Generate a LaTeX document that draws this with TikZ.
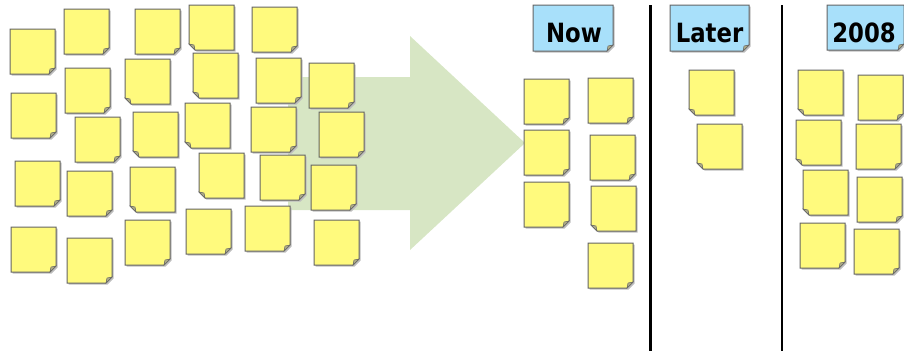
\documentclass[tikz,border=0pt]{standalone}
\usepackage{fontspec}
\newfontfamily\hdrfont[FakeStretch=0.86]{DejaVu Sans}
\definecolor{notefill}{RGB}{255,250,125}
\definecolor{hdrfill}{RGB}{168,224,250}
\definecolor{noteline}{RGB}{100,100,100}
\definecolor{noteshadow}{RGB}{190,190,190}
\definecolor{foldc}{RGB}{175,172,135}
\definecolor{arrowc}{RGB}{215,230,196}
\tikzset{
  anchorbox/.style={draw=none,fill=none,inner sep=0pt,outer sep=0pt},
  shadowpart/.style={fill=noteshadow},
  notepart/.style={draw=noteline,line width=1pt},
  foldpart/.style={fill=foldc,draw=noteline,line width=0.5pt},
  hdrtext/.style={font=\hdrfont\bfseries\fontsize{26.5}{30}\selectfont,inner sep=0pt,anchor=base},
  divider/.style={line width=2.2pt,black}
}
% name, x, y, w, h, fold (r or l), fill colour
\newcommand\sticky[7]{%
  \node[anchorbox,minimum width=#4,minimum height=#5,anchor=north west] (#1) at (#2,#3) {};
  \begin{scope}[shift={(#1.north west)}]
    \if r#6
      \fill[shadowpart] (1.5,1.5) -- (#4+1.5,1.5) -- (#4+1.5,#5-4.5) -- (#4-4.5,#5+1.5) -- (1.5,#5+1.5) -- cycle;
      \filldraw[notepart,fill=#7] (0,0) -- (#4,0) -- (#4,#5-6) -- (#4-6,#5) -- (0,#5) -- cycle;
      \filldraw[foldpart] (#4,#5-6) -- (#4-6,#5) -- (#4-5,#5-5) -- cycle;
    \else
      \fill[shadowpart] (1.5,1.5) -- (#4+1.5,1.5) -- (#4+1.5,#5+1.5) -- (7.5,#5+1.5) -- (1.5,#5-4.5) -- cycle;
      \filldraw[notepart,fill=#7] (0,0) -- (#4,0) -- (#4,#5) -- (6,#5) -- (0,#5-6) -- cycle;
      \filldraw[foldpart] (0,#5-6) -- (6,#5) -- (5,#5-5) -- cycle;
    \fi
  \end{scope}
}
\newcommand\nt[4]{\sticky{#1}{#2}{#3}{45}{45}{#4}{notefill}}
\begin{document}
\begin{tikzpicture}[x=1pt,y=-1pt]
\useasboundingbox (0,0) rectangle (904,351);
% big arrow
\fill[arrowc] (288,77) -- (410,77) -- (410,36) -- (525,143) -- (410,250) -- (410,210) -- (288,210) -- cycle;
% left cluster
\nt{a1}{10}{29}{r}
\nt{a2}{64}{9}{r}
\nt{a3}{135}{9}{r}
\nt{a4}{189}{5}{l}
\nt{a5}{252}{7}{r}
\nt{b1}{11}{93}{r}
\nt{b2}{65}{68}{r}
\nt{b3}{125}{59}{l}
\nt{b4}{193}{53}{l}
\nt{b5}{256}{58}{r}
\nt{b6}{309}{63}{r}
\nt{c1}{75}{117}{r}
\nt{c2}{133}{112}{l}
\nt{c3}{185}{103}{l}
\nt{c4}{251}{107}{r}
\nt{c5}{319}{112}{r}
\nt{d1}{15}{161}{r}
\nt{d2}{67}{171}{r}
\nt{d3}{130}{167}{l}
\nt{d4}{199}{153}{l}
\nt{d5}{260}{155}{r}
\nt{d6}{311}{165}{r}
\nt{e1}{11}{227}{r}
\nt{e2}{67}{238}{r}
\nt{e3}{125}{220}{r}
\nt{e4}{186}{209}{r}
\nt{e5}{245}{206}{r}
\nt{e6}{314}{220}{r}
% Now column
\sticky{hnow}{533}{5}{80}{46}{r}{hdrfill}
\node[hdrtext] (tnow) at (574,42.5) {Now};
\nt{n1}{524}{79}{r}
\nt{n2}{588}{78}{r}
\nt{n3}{524}{130}{r}
\nt{n4}{590}{135}{r}
\nt{n5}{524}{182}{r}
\nt{n6}{591}{186}{l}
\nt{n7}{588}{243}{r}
% Later column
\sticky{hlater}{670}{5}{79}{46}{r}{hdrfill}
\node[hdrtext] (tlater) at (709.5,42.5) {Later};
\nt{l1}{689}{70}{l}
\nt{l2}{697}{124}{l}
% 2008 column
\sticky{h2008}{827}{5}{77}{45}{r}{hdrfill}
\node[hdrtext] (t2008) at (864,42.5) {2008};
\nt{y1}{798}{70}{l}
\nt{y2}{858}{75}{r}
\nt{y3}{796}{120}{l}
\nt{y4}{856}{124}{r}
\nt{y5}{803}{170}{l}
\nt{y6}{857}{177}{r}
\nt{y7}{800}{223}{r}
\nt{y8}{854}{229}{r}
% dividers
\coordinate (v1t) at (650.5,5);
\coordinate (v1b) at (650.5,351);
\coordinate (v2t) at (782,5);
\coordinate (v2b) at (782,351);
\draw[divider] (v1t) -- (v1b);
\draw[divider] (v2t) -- (v2b);
\end{tikzpicture}
\end{document}
